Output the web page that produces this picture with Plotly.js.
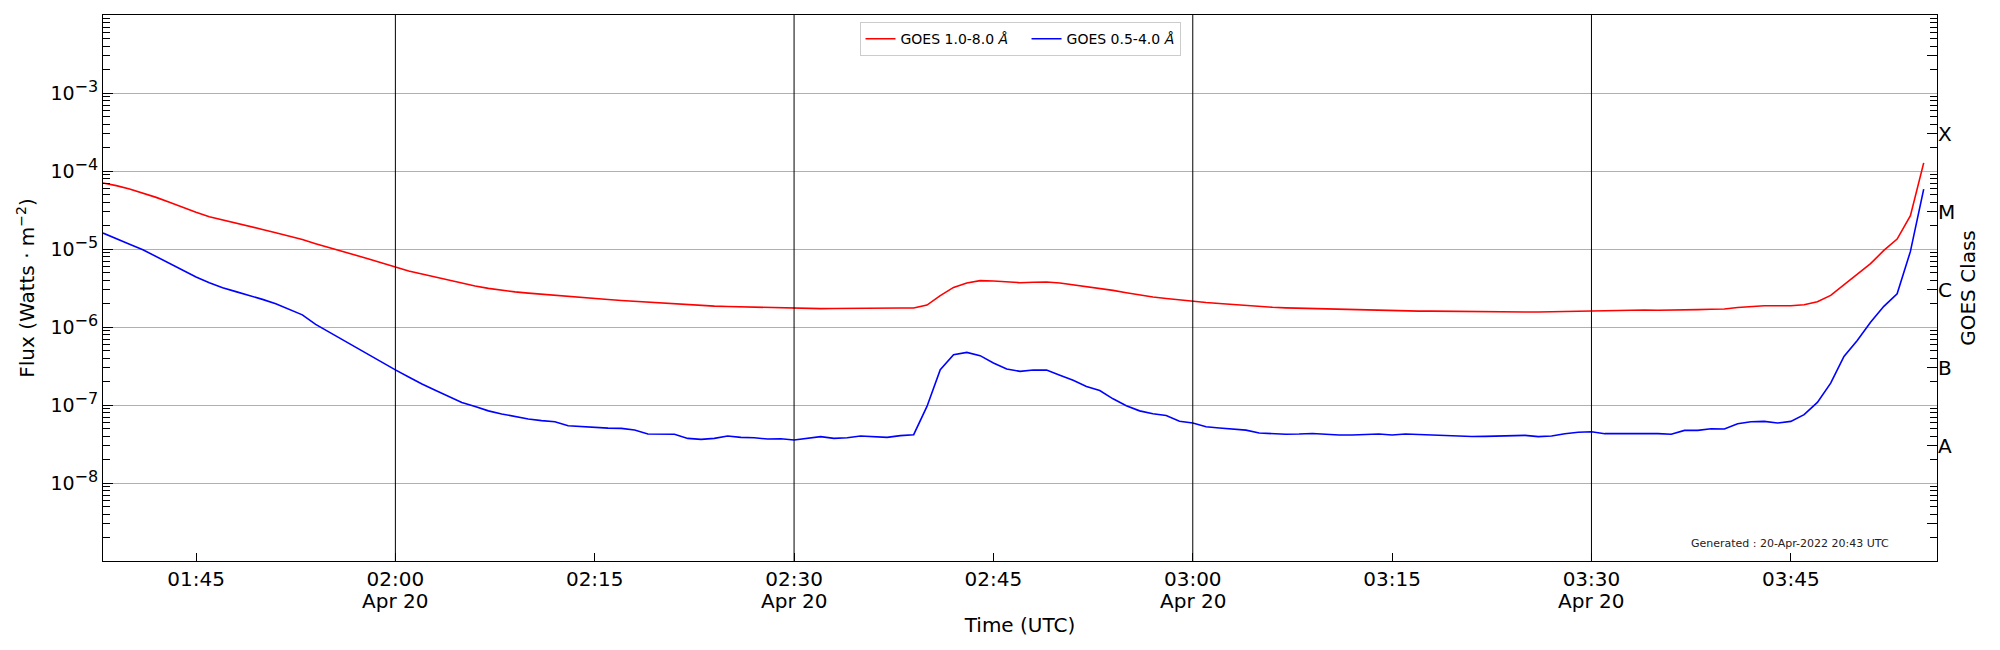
<!DOCTYPE html>
<html>
<head>
<meta charset="utf-8">
<script src="https://cdn.plot.ly/plotly-3.0.1.min.js"></script>
<style>
    html, body { margin: 0; padding: 0; background: #fff; }
    #placeholder { width: 2000px; height: 650px; }
</style>
</head>
<body>
<div id="placeholder"></div>
<script>
var obsDate = '2022-04-20';
var startClock = '01:38';
var endClock = '03:56';

// GOES XRS 1.0-8.0 A, one value per minute from 01:38 (W/m^2)
var xrsLong = [
    7.01e-5, 6.49e-5, 5.87e-5, 5.22e-5, 4.59e-5, 3.98e-5, 3.42e-5, 2.95e-5, 2.59e-5, 2.37e-5,
    2.17e-5, 1.97e-5, 1.78e-5, 1.62e-5, 1.47e-5, 1.32e-5, 1.17e-5, 1.05e-5, 9.33e-6, 8.38e-6,
    7.45e-6, 6.62e-6, 5.87e-6, 5.22e-6, 4.79e-6, 4.37e-6, 3.98e-6, 3.63e-6, 3.35e-6, 3.13e-6,
    2.96e-6, 2.82e-6, 2.72e-6, 2.63e-6, 2.54e-6, 2.45e-6, 2.39e-6, 2.32e-6, 2.25e-6, 2.19e-6,
    2.14e-6, 2.07e-6, 2.02e-6, 1.96e-6, 1.91e-6, 1.87e-6, 1.85e-6, 1.83e-6, 1.81e-6, 1.80e-6,
    1.78e-6, 1.75e-6, 1.73e-6, 1.73e-6, 1.72e-6, 1.73e-6, 1.74e-6, 1.75e-6, 1.75e-6, 1.75e-6,
    1.75e-6, 1.75e-6, 1.91e-6, 2.52e-6, 3.22e-6, 3.66e-6, 3.93e-6, 3.89e-6, 3.78e-6, 3.70e-6,
    3.74e-6, 3.78e-6, 3.66e-6, 3.47e-6, 3.31e-6, 3.16e-6, 2.95e-6, 2.75e-6, 2.57e-6, 2.43e-6,
    2.32e-6, 2.22e-6, 2.13e-6, 2.06e-6, 2.00e-6, 1.94e-6, 1.89e-6, 1.84e-6, 1.79e-6, 1.76e-6,
    1.74e-6, 1.72e-6, 1.70e-6, 1.69e-6, 1.68e-6, 1.66e-6, 1.65e-6, 1.63e-6, 1.62e-6, 1.60e-6,
    1.60e-6, 1.59e-6, 1.585e-6, 1.585e-6, 1.58e-6, 1.57e-6, 1.56e-6, 1.56e-6, 1.56e-6, 1.57e-6,
    1.60e-6, 1.62e-6, 1.63e-6, 1.64e-6, 1.65e-6, 1.65e-6, 1.65e-6, 1.64e-6, 1.64e-6, 1.66e-6,
    1.67e-6, 1.69e-6, 1.70e-6, 1.78e-6, 1.84e-6, 1.87e-6, 1.87e-6, 1.87e-6, 1.93e-6, 2.11e-6,
    2.54e-6, 3.48e-6, 4.69e-6, 6.49e-6, 9.59e-6, 1.34e-5, 2.67e-5, 1.27e-4
];

// GOES XRS 0.5-4.0 A, same minutes
var xrsShort = [
    1.60e-5, 1.37e-5, 1.15e-5, 9.79e-6, 7.98e-6, 6.43e-6, 5.27e-6, 4.38e-6, 3.70e-6, 3.19e-6,
    2.84e-6, 2.55e-6, 2.26e-6, 1.99e-6, 1.70e-6, 1.43e-6, 1.08e-6, 8.63e-7, 6.81e-7, 5.55e-7,
    4.37e-7, 3.51e-7, 2.82e-7, 2.29e-7, 1.86e-7, 1.55e-7, 1.29e-7, 1.08e-7, 9.55e-8, 8.41e-8,
    7.67e-8, 7.08e-8, 6.61e-8, 6.31e-8, 6.11e-8, 5.43e-8, 5.27e-8, 5.15e-8, 5.06e-8, 5.01e-8,
    4.78e-8, 4.25e-8, 4.23e-8, 4.21e-8, 3.73e-8, 3.62e-8, 3.73e-8, 4.00e-8, 3.85e-8, 3.81e-8,
    3.66e-8, 3.70e-8, 3.56e-8, 3.73e-8, 3.93e-8, 3.73e-8, 3.81e-8, 4.00e-8, 3.96e-8, 3.85e-8,
    4.05e-8, 4.16e-8, 9.59e-8, 2.84e-7, 4.42e-7, 4.72e-7, 4.29e-7, 3.45e-7, 2.89e-7, 2.70e-7,
    2.81e-7, 2.80e-7, 2.40e-7, 2.07e-7, 1.73e-7, 1.53e-7, 1.20e-7, 9.77e-8, 8.41e-8, 7.71e-8,
    7.33e-8, 6.18e-8, 5.87e-8, 5.27e-8, 5.07e-8, 4.94e-8, 4.76e-8, 4.38e-8, 4.27e-8, 4.21e-8,
    4.24e-8, 4.31e-8, 4.22e-8, 4.12e-8, 4.12e-8, 4.19e-8, 4.25e-8, 4.12e-8, 4.25e-8, 4.19e-8,
    4.12e-8, 4.02e-8, 3.93e-8, 3.94e-8, 3.96e-8, 4.00e-8, 4.04e-8, 4.08e-8, 3.93e-8, 4.00e-8,
    4.29e-8, 4.47e-8, 4.55e-8, 4.29e-8, 4.32e-8, 4.34e-8, 4.34e-8, 4.29e-8, 4.21e-8, 4.73e-8,
    4.73e-8, 4.97e-8, 4.92e-8, 5.75e-8, 6.11e-8, 6.17e-8, 5.87e-8, 6.17e-8, 7.52e-8, 1.08e-7,
    1.91e-7, 4.20e-7, 6.73e-7, 1.15e-6, 1.84e-6, 2.67e-6, 9.31e-6, 5.87e-5
];

var seriesNames = ['GOES 1.0-8.0 <i>Å</i>', 'GOES 0.5-4.0 <i>Å</i>'];

var timeTicks = ['01:45', '02:00', '02:15', '02:30', '02:45', '03:00', '03:15', '03:30', '03:45'];
var dateTicks = ['02:00', '02:30', '03:00', '03:30'];
var dateLabel = 'Apr 20';
var markerTimes = ['02:00', '02:30', '03:00', '03:30'];

var fluxTicks = [1e-8, 1e-7, 1e-6, 1e-5, 1e-4, 1e-3];
var fluxExponents = ['−8', '−7', '−6', '−5', '−4', '−3'];
var classTicks = [3e-9, 3e-8, 3e-7, 3e-6, 3e-5, 3e-4, 3e-3];
var classLetters = [' ', 'A', 'B', 'C', 'M', 'X', ' '];

var generatedNote = 'Generated : 20-Apr-2022 20:43 UTC';

(function() {
    'use strict';

    var pad = (n) => (n < 10 ? '0' : '') + n;
    var stamp = (clock) => obsDate + ' ' + clock;

    var toMinutes = (clock) => {
        var p = clock.split(':');
        return parseInt(p[0], 10) * 60 + parseInt(p[1], 10);
    };

    var times = [];
    var m0 = toMinutes(startClock);
    for (var i = 0; i < xrsLong.length; i++) {
        var m = m0 + i;
        times.push(stamp(pad(Math.floor(m / 60)) + ':' + pad(m % 60)));
    }

    // minor log ticks 2..9 x 10^n
    var minorVals = [];
    for (var e = -9; e <= -3; e++) {
        for (var d = 2; d <= 9; d++) {
            minorVals.push(d * Math.pow(10, e));
        }
    }

    var fluxTickText = fluxExponents.map((p) =>
        '10<sup><span style="font-size:16px">' + p + '</span></sup>');

    var font = 'DejaVu Sans, Liberation Sans, sans-serif';
    var gap = '\u00a0\u00a0\u00a0';

    var data = [
        {
            x: times, y: xrsLong, name: seriesNames[0] + gap, type: 'scatter', mode: 'lines',
            line: { color: '#ff0000', width: 1.6 }
        },
        {
            x: times, y: xrsShort, name: seriesNames[1], type: 'scatter', mode: 'lines',
            line: { color: '#0000ff', width: 1.6 }
        },
        {
            // keeps the right-hand class axis alive
            x: times, y: xrsShort, yaxis: 'y2', type: 'scatter', mode: 'lines',
            line: { width: 0 }, opacity: 0, showlegend: false, hoverinfo: 'skip'
        }
    ];

    var shapes = markerTimes.map((t) => ({
        type: 'line', xref: 'x', yref: 'paper',
        x0: stamp(t), x1: stamp(t), y0: 0, y1: 1,
        line: { color: '#000000', width: 1 }
    }));

    // second row of the time labels
    var annotations = dateTicks.map((t) => ({
        text: dateLabel, xref: 'x', yref: 'paper', x: stamp(t), y: 0,
        yshift: -40, xanchor: 'center', yanchor: 'middle', showarrow: false,
        borderpad: 0, font: { size: 20, color: '#000000' }
    }));
    annotations.push({
        text: generatedNote, xref: 'paper', yref: 'paper',
        x: 0.9196, y: 0.032, xanchor: 'center', yanchor: 'middle',
        showarrow: false, font: { size: 11, color: '#222222' }
    });

    var layout = {
        width: 2000,
        height: 650,
        margin: { l: 103, r: 63, t: 15, b: 89, pad: 0 },
        paper_bgcolor: '#ffffff',
        plot_bgcolor: '#ffffff',
        font: { family: font, size: 20, color: '#000000' },
        showlegend: true,
        legend: {
            orientation: 'h',
            x: 0.5, xanchor: 'center',
            y: 0.987, yanchor: 'top',
            bgcolor: '#ffffff',
            bordercolor: '#cccccc',
            borderwidth: 1,
            font: { size: 14, family: font },
            itemwidth: 30
        },
        xaxis: {
            type: 'date',
            range: [stamp(startClock), stamp(endClock)],
            tickmode: 'array',
            tickvals: timeTicks.map(stamp),
            ticktext: timeTicks,
            ticks: 'inside',
            ticklen: 8,
            tickcolor: '#000000',
            showgrid: false,
            zeroline: false,
            showline: true,
            mirror: true,
            linecolor: '#000000',
            linewidth: 1,
            tickfont: { size: 20 },
            title: { text: 'Time (UTC)', font: { size: 20 }, standoff: 27 }
        },
        yaxis: {
            type: 'log',
            range: [-9, -2],
            tickmode: 'array',
            tickvals: fluxTicks,
            ticktext: fluxTickText,
            ticks: 'inside',
            ticklen: 10,
            tickcolor: '#000000',
            minor: {
                tickmode: 'array', tickvals: minorVals, ticks: 'inside',
                ticklen: 7, tickcolor: '#000000', showgrid: false
            },
            showgrid: true,
            gridcolor: '#b0b0b0',
            gridwidth: 1,
            zeroline: false,
            showline: true,
            mirror: true,
            linecolor: '#000000',
            linewidth: 1,
            tickfont: { size: 19 },
            title: { text: 'Flux (Watts · m<sup>−2</sup>)', font: { size: 20 }, standoff: 10 }
        },
        yaxis2: {
            type: 'log',
            range: [-9, -2],
            overlaying: 'y',
            side: 'right',
            tickmode: 'array',
            tickvals: classTicks,
            ticktext: classLetters,
            ticks: 'inside',
            ticklen: 10,
            tickcolor: '#000000',
            minor: {
                tickmode: 'array', tickvals: minorVals, ticks: 'inside',
                ticklen: 7, tickcolor: '#000000', showgrid: false
            },
            showgrid: false,
            zeroline: false,
            showline: false,
            tickfont: { size: 20 },
            title: { text: 'GOES Class', font: { size: 20 }, standoff: 6 }
        },
        shapes: shapes,
        annotations: annotations
    };

    document.addEventListener('DOMContentLoaded', function() {
        Plotly.newPlot('placeholder', data, layout, { staticPlot: true, displayModeBar: false });
    });
})();
</script>
</body>
</html>
